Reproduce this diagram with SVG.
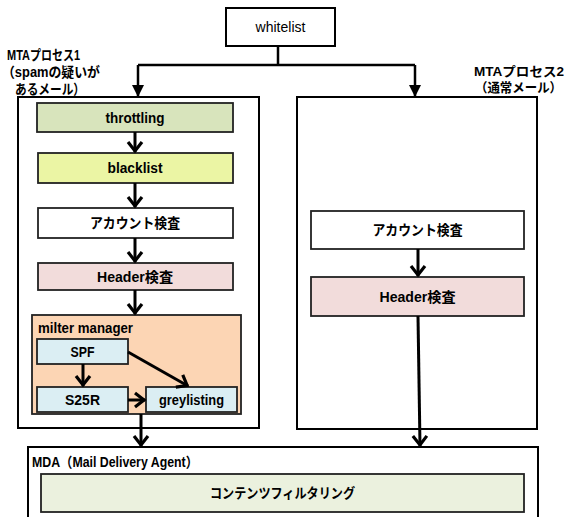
<svg xmlns="http://www.w3.org/2000/svg" width="569" height="517" viewBox="0 0 569 517">
<style>
text{font-family:"Liberation Sans","Noto Sans CJK JP",sans-serif;font-size:14px;font-weight:bold;fill:#000}
.c{text-anchor:middle}
.r{font-size:13px}
.ctr{fill:#fff;stroke:#000;stroke-width:2}
.box{stroke:#222;stroke-width:1.8}
.conn{stroke:#000;stroke-width:3;fill:none}
.top{stroke:#000;stroke-width:2.5;fill:none}
</style>
<defs>
<marker id="chev" markerUnits="userSpaceOnUse" orient="auto" refX="0" refY="0" markerWidth="20" markerHeight="20" overflow="visible">
<path d="M-10,-7 L-1,0 L-10,7" fill="none" stroke="#000" stroke-width="3.2"/>
</marker>
<marker id="tri" markerUnits="userSpaceOnUse" orient="auto" refX="0" refY="0" markerWidth="20" markerHeight="20" overflow="visible">
<path d="M-12,-6 L0,0 L-12,6 z" fill="#000"/>
</marker>
</defs>

<g id="labels">
<text x="7" y="60" textLength="73" lengthAdjust="spacingAndGlyphs">MTAプロセス1</text>
<text x="2" y="77" textLength="98" lengthAdjust="spacingAndGlyphs">（spamの疑いが</text>
<text x="15" y="94" textLength="70" lengthAdjust="spacingAndGlyphs">あるメール）</text>
<text class="r" x="474" y="76" textLength="90" lengthAdjust="spacingAndGlyphs">MTAプロセス2</text>
<text class="r" x="475" y="92" textLength="87" lengthAdjust="spacingAndGlyphs">（通常メール）</text>
</g>

<g id="mta1">
<rect class="ctr" x="18" y="97" width="241" height="331"/>
</g>
<g id="mta2">
<rect class="ctr" x="297" y="97" width="240" height="332"/>
</g>
<g id="mda">
<rect class="ctr" x="28" y="447" width="510" height="80"/>
<text x="32" y="467" textLength="166" lengthAdjust="spacingAndGlyphs">MDA（Mail Delivery Agent）</text>
</g>

<g id="whitelist">
<rect x="226" y="8" width="109" height="38" fill="#fff" stroke="#000" stroke-width="2"/>
<text class="c" x="280.5" y="32" style="font-weight:normal;font-size:14px">whitelist</text>
</g>

<g id="throttling">
<rect class="box" x="37" y="103" width="196" height="29" fill="#d8e4bc"/>
<text class="c" x="135" y="122.5" textLength="59" lengthAdjust="spacingAndGlyphs">throttling</text>
</g>
<g id="blacklist">
<rect class="box" x="38" y="153" width="195" height="30" fill="#ebf5a4"/>
<text class="c" x="135" y="173" textLength="55" lengthAdjust="spacingAndGlyphs">blacklist</text>
</g>
<g id="account1">
<rect class="box" x="38" y="208" width="195" height="30" fill="#fff"/>
<text class="c" x="135" y="228" textLength="90" lengthAdjust="spacingAndGlyphs">アカウント検査</text>
</g>
<g id="header1">
<rect class="box" x="38" y="263" width="195" height="27" fill="#f2dcdb"/>
<text class="c" x="135" y="281.5" textLength="76" lengthAdjust="spacingAndGlyphs">Header検査</text>
</g>
<g id="milter">
<rect class="box" x="32" y="315" width="209" height="99" fill="#fcd5b4"/>
<text x="38" y="333" textLength="95" lengthAdjust="spacingAndGlyphs">milter manager</text>
</g>
<g id="spf">
<rect class="box" x="37" y="339" width="91" height="25" fill="#dbeef3"/>
<text class="c" x="82.5" y="356.5" textLength="24" lengthAdjust="spacingAndGlyphs">SPF</text>
</g>
<g id="s25r">
<rect class="box" x="37" y="387" width="91" height="25" fill="#dbeef3"/>
<text class="c" x="82.5" y="404.5" textLength="35" lengthAdjust="spacingAndGlyphs">S25R</text>
</g>
<g id="greylisting">
<rect class="box" x="146" y="387" width="91" height="25" fill="#dbeef3"/>
<text class="c" x="191.5" y="404.5" textLength="65" lengthAdjust="spacingAndGlyphs">greylisting</text>
</g>

<g id="account2">
<rect class="box" x="311" y="211" width="213" height="38" fill="#fff"/>
<text class="c" x="417.5" y="235" textLength="90" lengthAdjust="spacingAndGlyphs">アカウント検査</text>
</g>
<g id="header2">
<rect class="box" x="311" y="277" width="213" height="39" fill="#f2dcdb"/>
<text class="c" x="417.5" y="301.5" textLength="76" lengthAdjust="spacingAndGlyphs">Header検査</text>
</g>

<g id="content">
<rect class="box" x="41" y="474" width="483" height="38" fill="#ebf1de"/>
<text class="c" x="282.5" y="498" textLength="145" lengthAdjust="spacingAndGlyphs">コンテンツフィルタリング</text>
</g>

<g id="connectors">
<polyline class="top" points="278,46 278,65"/>
<polyline class="top" points="138,65 415,65"/>
<line class="top" x1="138" y1="65" x2="138" y2="97" marker-end="url(#tri)"/>
<line class="top" x1="415" y1="65" x2="415" y2="97" marker-end="url(#tri)"/>
<line class="conn" x1="135" y1="132" x2="135" y2="152" marker-end="url(#chev)"/>
<line class="conn" x1="135" y1="183" x2="135" y2="207" marker-end="url(#chev)"/>
<line class="conn" x1="135" y1="238" x2="135" y2="262" marker-end="url(#chev)"/>
<line class="conn" x1="135" y1="290" x2="135" y2="314" marker-end="url(#chev)"/>
<line class="conn" x1="83" y1="364" x2="83" y2="386" marker-end="url(#chev)"/>
<line class="conn" x1="128" y1="400" x2="145" y2="400" marker-end="url(#chev)"/>
<line class="conn" x1="128" y1="352" x2="188" y2="386" marker-end="url(#chev)"/>
<line class="conn" x1="141" y1="414" x2="141" y2="446" marker-end="url(#chev)"/>
<line class="conn" x1="418" y1="249" x2="418" y2="276" marker-end="url(#chev)"/>
<line class="conn" x1="418" y1="316" x2="420" y2="446" marker-end="url(#chev)"/>
</g>
</svg>
